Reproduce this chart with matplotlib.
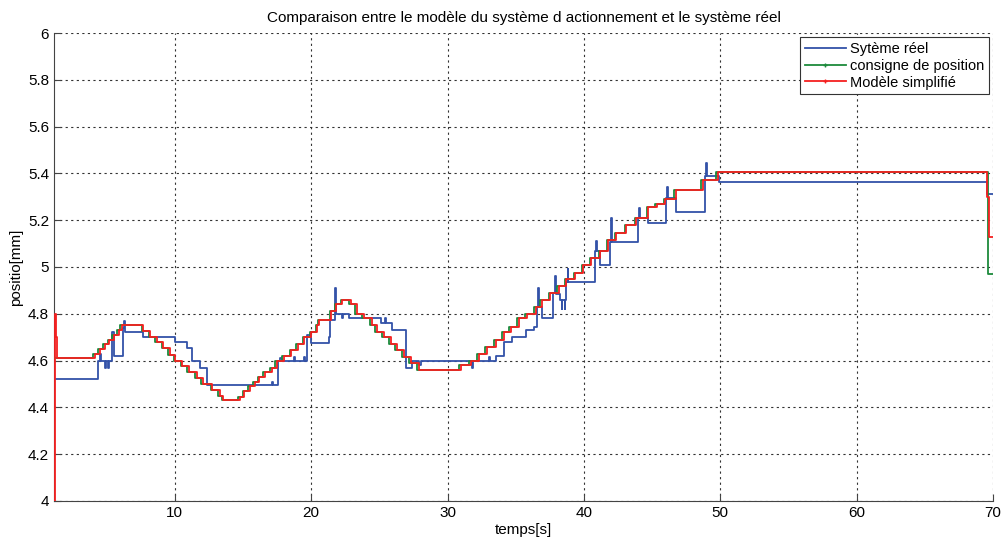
import numpy as np
import matplotlib as mpl, matplotlib.pyplot as plt
from matplotlib.lines import Line2D
from matplotlib.ticker import FuncFormatter

mpl.rcParams.update({"font.family": ["Liberation Sans", "DejaVu Sans"], "font.size": 10.5,
                     "xtick.direction": "in", "ytick.direction": "in"})

# ---- Système réel (blue) : step times [s] / positions [mm]
real_t = [1.15, 4.37, 4.51, 4.59, 4.88, 4.95, 5.10, 5.17, 5.39, 5.54,
          6.19, 6.27, 6.34, 7.66, 9.99, 10.87, 11.24, 11.82, 12.33, 17.16,
          17.23, 17.60, 17.74, 17.89, 18.77, 18.84, 19.50, 19.57, 19.72, 20.01,
          21.33, 21.40, 21.76, 21.84, 22.28, 22.35, 22.79, 25.13, 25.42, 25.49,
          25.93, 26.95, 27.39, 27.90, 28.05, 31.78, 31.85, 33.02, 33.09, 33.53,
          34.12, 34.70, 35.73, 36.31, 36.53, 36.60, 36.68, 36.90, 37.77, 37.85,
          37.92, 38.28, 38.36, 38.43, 38.58, 38.65, 38.72, 38.80, 38.87, 40.84,
          40.92, 40.99, 41.21, 41.94, 42.01, 42.09, 44.00, 44.07, 44.14, 44.72,
          46.04, 46.11, 46.18, 46.76, 48.88, 48.96, 49.03, 49.91, 69.57, 69.65, 70.0]
real_y = [4.52, 4.60, 4.63, 4.60, 4.57, 4.60, 4.57, 4.60, 4.72, 4.62,
          4.74, 4.77, 4.72, 4.70, 4.68, 4.655, 4.60, 4.57, 4.495, 4.51,
          4.495, 4.60, 4.61, 4.60, 4.615, 4.60, 4.615, 4.60, 4.71, 4.675,
          4.70, 4.775, 4.91, 4.80, 4.78, 4.80, 4.78, 4.76, 4.78, 4.76,
          4.73, 4.57, 4.60, 4.58, 4.60, 4.57, 4.60, 4.615, 4.60, 4.62,
          4.68, 4.70, 4.73, 4.745, 4.83, 4.91, 4.83, 4.78, 4.89, 4.96,
          4.885, 4.86, 4.82, 4.86, 4.82, 4.86, 4.935, 4.99, 4.935, 5.07,
          5.11, 5.07, 5.01, 5.105, 5.21, 5.105, 5.21, 5.25, 5.21, 5.19,
          5.295, 5.34, 5.295, 5.235, 5.39, 5.445, 5.39, 5.365, 5.31, 5.31, 5.31]

# ---- consigne de position (green)
cons_t = [1.15,
          4.03, 4.38, 4.73, 5.08, 5.43, 5.78, 5.98,
          7.58, 8.08, 8.58, 9.03, 9.53, 9.93, 10.43, 10.93, 11.48, 11.93, 12.63, 13.18, 13.43,
          14.63, 14.98, 15.38, 15.73, 16.08, 16.48, 16.98, 17.38, 17.88, 18.43, 18.88, 19.38, 19.88, 20.33, 20.48,
          21.35, 21.72, 22.16,
          22.81, 23.25, 23.76, 24.35, 24.71, 25.23, 25.74, 26.18, 26.69, 27.20, 27.78,
          30.85, 31.59, 32.17, 32.76, 33.41, 34.00, 34.51, 35.09, 35.68, 36.34, 36.78, 37.43, 38.02,
          38.60, 39.26, 39.85, 40.43, 41.09, 41.67, 42.26, 42.99, 43.72, 44.60, 45.25, 45.84, 46.64,
          48.62, 49.71, 69.60, 70.0]
cons_y = [4.61,
          4.63, 4.65, 4.67, 4.69, 4.71, 4.73, 4.75,
          4.725, 4.70, 4.68, 4.655, 4.625, 4.60, 4.575, 4.55, 4.525, 4.50, 4.475, 4.45, 4.43,
          4.445, 4.47, 4.49, 4.51, 4.53, 4.55, 4.57, 4.60, 4.62, 4.645, 4.67, 4.70, 4.72, 4.75, 4.775,
          4.81, 4.84, 4.86,
          4.84, 4.80, 4.78, 4.75, 4.72, 4.70, 4.67, 4.645, 4.615, 4.59, 4.56,
          4.58, 4.60, 4.63, 4.66, 4.69, 4.72, 4.745, 4.78, 4.80, 4.83, 4.86, 4.89, 4.92,
          4.95, 4.975, 5.01, 5.04, 5.07, 5.115, 5.145, 5.18, 5.21, 5.255, 5.27, 5.29, 5.33,
          5.37, 5.405, 4.97, 4.97]

# ---- Modèle simplifié (red)
model_t = [1.17, 1.19, 1.26, 1.33,
           4.15, 4.50, 4.85, 5.20, 5.55, 5.90, 6.10,
           7.70, 8.20, 8.70, 9.15, 9.65, 10.05, 10.55, 11.05, 11.60, 12.05, 12.75, 13.30, 13.55,
           14.75, 15.10, 15.50, 15.85, 16.20, 16.60, 17.10, 17.50, 18.00, 18.55, 19.00, 19.50, 20.00, 20.45, 20.60,
           21.47, 21.84, 22.28,
           22.93, 23.37, 23.88, 24.47, 24.83, 25.35, 25.86, 26.30, 26.81, 27.32, 27.90,
           30.97, 31.71, 32.29, 32.88, 33.53, 34.12, 34.63, 35.21, 35.80, 36.46, 36.90, 37.55, 38.14,
           38.72, 39.38, 39.97, 40.55, 41.21, 41.79, 42.38, 43.11, 43.84, 44.72, 45.37, 45.96, 46.76,
           48.74, 49.83, 69.58, 69.68, 70.0]
model_y = [4.00, 4.80, 4.70, 4.61,
           4.63, 4.65, 4.67, 4.69, 4.71, 4.73, 4.75,
           4.725, 4.70, 4.68, 4.655, 4.625, 4.60, 4.575, 4.55, 4.525, 4.50, 4.475, 4.45, 4.43,
           4.445, 4.47, 4.49, 4.51, 4.53, 4.55, 4.57, 4.60, 4.62, 4.645, 4.67, 4.70, 4.72, 4.75, 4.775,
           4.81, 4.84, 4.86,
           4.84, 4.80, 4.78, 4.75, 4.72, 4.70, 4.67, 4.645, 4.615, 4.59, 4.56,
           4.58, 4.60, 4.63, 4.66, 4.69, 4.72, 4.745, 4.78, 4.80, 4.83, 4.86, 4.89, 4.92,
           4.95, 4.975, 5.01, 5.04, 5.07, 5.115, 5.145, 5.18, 5.21, 5.255, 5.27, 5.29, 5.33,
           5.37, 5.405, 5.30, 5.13, 5.13]

BLUE, GREEN, RED = "#3352a8", "#1c8a3c", "#f52020"

fig = plt.figure(figsize=(10.02, 5.41), dpi=100)
ax = fig.add_axes([0.054, 0.074, 0.937, 0.865])
ax.step(real_t, real_y, where="post", color=BLUE, lw=1.3, zorder=3)
ax.step(cons_t, cons_y, where="post", color=GREEN, lw=1.3, zorder=3)
ax.step(model_t, model_y, where="post", color=RED, lw=1.3, zorder=3)

ax.set_xlim(1.15, 70); ax.set_ylim(4, 6)
ax.set_xticks([10, 20, 30, 40, 50, 60, 70])
ax.set_yticks(np.arange(4, 6.01, 0.2))
ax.yaxis.set_major_formatter(FuncFormatter(lambda v, p: f"{v:g}"))
ax.grid(True, ls=(0, (2, 3)), lw=0.8, color="#333333")
for s in ["top", "right"]: ax.spines[s].set_visible(False)
for s in ["left", "bottom"]: ax.spines[s].set_color("#444444")
ax.tick_params(length=5, color="#444444", labelsize=11)
ax.set_title("Comparaison entre le modèle du système d actionnement et le système réel", fontsize=11, pad=8)
ax.set_xlabel("temps[s]", fontsize=11, labelpad=2)
ax.set_ylabel("positio[mm]", fontsize=11, labelpad=4)

hs = [Line2D([0], [0], color=BLUE, lw=1.3),
      Line2D([0], [0], color=GREEN, lw=1.3, marker="+", ms=3),
      Line2D([0], [0], color=RED, lw=1.3, marker="+", ms=3)]
leg = ax.legend(hs, ["Sytème réel", "consigne de position", "Modèle simplifié"], loc="upper right",
                fancybox=False, framealpha=1, edgecolor="#333333", fontsize=10.5,
                handlelength=2.8, handletextpad=0.3, borderpad=0.3, labelspacing=0.2,
                borderaxespad=0.3)
leg.get_frame().set_linewidth(0.8)
leg.set_zorder(5)

fig.savefig("out.png", dpi=100)
